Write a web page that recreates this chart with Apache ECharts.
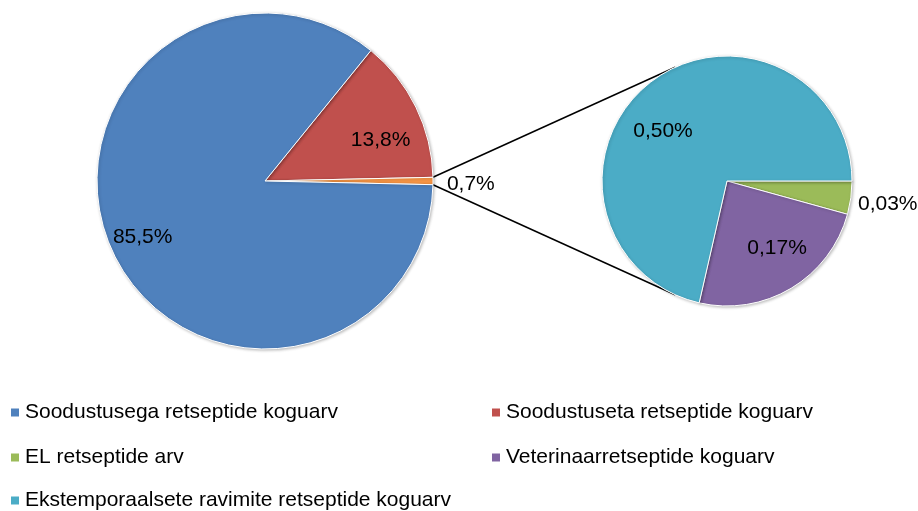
<!DOCTYPE html>
<html>
<head>
<meta charset="utf-8">
<style>
html,body{margin:0;padding:0;background:#fff;}
#chart{width:918px;height:511px;}
</style>
<script src="https://cdn.jsdelivr.net/npm/echarts@6/dist/echarts.min.js"></script>
</head>
<body>
<div id="chart"></div>
<script>
// ---- data ----
const mainNames = ['Soodustuseta retseptide koguarv', 'Muud retseptid', 'Soodustusega retseptide koguarv'];
const mainValues = [13.8, 0.7, 85.5];
const subNames = ['EL retseptide arv', 'Veterinaarretseptide koguarv', 'Ekstemporaalsete ravimite retseptide koguarv'];
const subValues = [0.03, 0.17, 0.50];
const legendOrder = ['Soodustusega retseptide koguarv', 'Soodustuseta retseptide koguarv', 'EL retseptide arv', 'Veterinaarretseptide koguarv', 'Ekstemporaalsete ravimite retseptide koguarv'];

// ---- styles / layout ----
const mainColors = ['#C0504D', '#F79646', '#4F81BD'];
const subColors = ['#9BBB59', '#8064A2', '#4BACC6'];
const FONT = 'Liberation Sans, Arial, sans-serif';
const mainC = [265, 181], mainR = 168;
const subC = [727, 181], subR = 125;
// label placement: [angle deg (ccw from +x), radius fraction, align]
const labelPlace = [
  [[19.5, 0.73, 'center'], [-1, 1.083, 'left'], [204.5, 0.80, 'center']],
  [[-10, 1.064, 'left'], [-53.3, 0.67, 'center'], [142, 0.65, 'center']]
];

const mainTotal = mainValues.reduce((a, b) => a + b, 0);
const otherIdx = 1;
// slice "other" is centred on the horizontal to the right
const mainStart = (mainValues[0] + mainValues[otherIdx] / 2) / mainTotal * 360;
const halfOther = mainValues[otherIdx] / 2 / mainTotal * 360 * Math.PI / 180;

function fmt(v, d) { return v.toFixed(d).replace('.', ',') + '%'; }

// connector lines: from edges of "other" slice to tangent points on secondary pie
function tangentPoint(p, c, r, sign) {
  const dx = p[0] - c[0], dy = p[1] - c[1];
  const d = Math.sqrt(dx * dx + dy * dy);
  const base = Math.atan2(dy, dx);
  const a = base + sign * Math.acos(r / d);
  return [c[0] + r * Math.cos(a), c[1] + r * Math.sin(a)];
}
const pTop = [mainC[0] + mainR * Math.cos(halfOther), mainC[1] - mainR * Math.sin(halfOther)];
const pBot = [mainC[0] + mainR * Math.cos(halfOther), mainC[1] + mainR * Math.sin(halfOther)];
const tTop = tangentPoint(pTop, subC, subR, 1);
const tBot = tangentPoint(pBot, subC, subR, -1);

const legendPos = [
  {left: 11, top: 402}, {left: 492, top: 402},
  {left: 11, top: 447}, {left: 492, top: 447},
  {left: 11, top: 490}
];
const legends = legendOrder.map((n, i) => ({
  data: [n],
  left: legendPos[i].left, top: legendPos[i].top,
  padding: 0,
  orient: 'horizontal',
  icon: 'rect', itemWidth: 8, itemHeight: 8, itemGap: 0,
  itemStyle: {borderWidth: 0, shadowBlur: 0, shadowOffsetX: 0, shadowOffsetY: 0},
  selectedMode: false,
  textStyle: {fontFamily: FONT, fontSize: 21, color: '#000', padding: [0, 0, 0, 1]}
}));

function layoutFn(p) {
  const pl = labelPlace[p.seriesIndex][p.dataIndex];
  const c = p.seriesIndex === 0 ? mainC : subC;
  const r = p.seriesIndex === 0 ? mainR : subR;
  const a = pl[0] * Math.PI / 180;
  return {
    x: c[0] + r * pl[1] * Math.cos(a),
    y: c[1] - r * pl[1] * Math.sin(a),
    align: pl[2], verticalAlign: 'middle'
  };
}

const chart = echarts.init(document.getElementById('chart'), null, {renderer: 'canvas'});
chart.setOption({
  animation: false,
  backgroundColor: '#fff',
  legend: legends,
  graphic: [
    {type: 'line', z: 1, shape: {x1: pTop[0], y1: pTop[1], x2: tTop[0], y2: tTop[1]}, style: {stroke: '#000', lineWidth: 1.5}},
    {type: 'line', z: 1, shape: {x1: pBot[0], y1: pBot[1], x2: tBot[0], y2: tBot[1]}, style: {stroke: '#000', lineWidth: 1.5}}
  ],
  series: [
    {
      type: 'pie', center: mainC, radius: mainR, startAngle: mainStart, clockwise: true,
      avoidLabelOverlap: false, silent: true,
      itemStyle: {borderColor: '#fff', borderWidth: 1, shadowBlur: 3, shadowColor: 'rgba(0,0,0,0.25)', shadowOffsetX: 1, shadowOffsetY: 1},
      label: {show: true, position: 'inside', fontFamily: FONT, fontSize: 21, color: '#000',
              formatter: p => fmt(p.value, 1)},
      labelLine: {show: false},
      labelLayout: layoutFn,
      emphasis: {disabled: true},
      data: mainNames.map((n, i) => ({name: n, value: mainValues[i], itemStyle: {color: mainColors[i]}}))
    },
    {
      type: 'pie', center: subC, radius: subR, startAngle: 0, clockwise: true,
      avoidLabelOverlap: false, silent: true,
      itemStyle: {borderColor: '#fff', borderWidth: 1, shadowBlur: 3, shadowColor: 'rgba(0,0,0,0.25)', shadowOffsetX: 1, shadowOffsetY: 1},
      label: {show: true, position: 'inside', fontFamily: FONT, fontSize: 21, color: '#000',
              formatter: p => fmt(p.value, 2)},
      labelLine: {show: false},
      labelLayout: layoutFn,
      emphasis: {disabled: true},
      data: subNames.map((n, i) => ({name: n, value: subValues[i], itemStyle: {color: subColors[i]}}))
    }
  ]
});
</script>
</body>
</html>
